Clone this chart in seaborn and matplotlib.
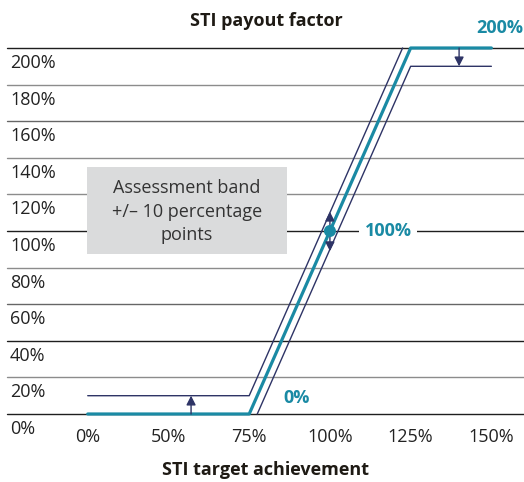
import numpy as np
import matplotlib
matplotlib.use("Agg")
import matplotlib.pyplot as plt
import seaborn as sns
from matplotlib.patches import Rectangle

# STI payout curve with +/- 10 pp assessment band

achievement_ticks = [0, 50, 75, 100, 125, 150]
achievement_labels = ["0%", "50%", "75%", "100%", "125%", "150%"]
payout_ticks = [0, 20, 40, 60, 80, 100, 120, 140, 160, 180, 200]
payout_labels = ["%d%%" % v for v in payout_ticks]

target_x = [0, 75, 125, 150]
target_y = [0, 0, 200, 200]
upper_x = [0, 75, 122.5]
upper_y = [10, 10, 200]
lower_x = [77.5, 125, 150]
lower_y = [0, 190, 190]

teal = "#1a8aa4"
navy = "#2e3466"
grid_colors = ["#1e1e1e", "#8c8c8c", "#1e1e1e", "#666666", "#8c8c8c", "#1e1e1e",
               "#8c8c8c", "#8c8c8c", "#666666", "#8c8c8c", "#1e1e1e"]

sns.set_style("white")
plt.rcParams["font.family"] = ["Open Sans", "DejaVu Sans"]
fs = 13

fig = plt.figure(figsize=(5.24, 4.82), dpi=100)
W, H = 524.0, 482.0
ax = fig.add_axes([7 / W, 1 - 414 / H, 517 / W, 366 / H])

# uneven x spacing: ticks equally spaced
xp = [-50, 0, 50, 75, 100, 125, 150, 175]
fp = [-1, 0, 1, 2, 3, 4, 5, 6]
fwd = lambda x: np.interp(x, xp, fp)
inv = lambda p: np.interp(p, fp, xp)
ax.set_xscale("function", functions=(fwd, inv))
ax.set_xlim(-50.9, 160.1)
ax.set_ylim(0, 200)

for v, c in zip(payout_ticks, grid_colors):
    ax.axhline(v, color=c, lw=1.0, zorder=1, clip_on=False)

sns.lineplot(x=upper_x, y=upper_y, ax=ax, color=navy, lw=1.0, sort=False, zorder=3)
sns.lineplot(x=lower_x, y=lower_y, ax=ax, color=navy, lw=1.0, sort=False, zorder=3)
sns.lineplot(x=target_x, y=target_y, ax=ax, color=teal, lw=2.3, sort=False, zorder=4)
for line in ax.lines:
    line.set_clip_on(False)
sns.scatterplot(x=[100], y=[100], ax=ax, color=teal, s=75, edgecolor="none", zorder=6)

arrow = dict(arrowstyle="-|>,head_length=0.55,head_width=0.28", color=navy, lw=1.0, shrinkA=0, shrinkB=0)
ax.annotate("", xy=(140, 190), xytext=(140, 200), arrowprops=arrow, zorder=5)
ax.annotate("", xy=(57, 10), xytext=(57, 0), arrowprops=arrow, zorder=5)
ax.annotate("", xy=(100, 110.5), xytext=(100, 100), arrowprops=arrow, zorder=5)
ax.annotate("", xy=(100, 89), xytext=(100, 100), arrowprops=arrow, zorder=5)

# y labels sit just below each grid line
for v, lab in zip(payout_ticks, payout_labels):
    ax.annotate(lab, xy=(0, v), xycoords=("axes fraction", "data"), xytext=(3, -6),
                textcoords="offset pixels", va="top", ha="left", fontsize=fs, color="#222222")
ax.set_yticks([])
ax.set_xticks(achievement_ticks)
ax.set_xticklabels(achievement_labels, fontsize=fs, color="#222222")
ax.tick_params(axis="x", length=0, pad=10)
ax.xaxis.set_minor_locator(matplotlib.ticker.NullLocator())
for s in ax.spines.values():
    s.set_visible(False)

# assessment band box
ax.add_patch(Rectangle((0.1547, 0.437), 0.387, 0.238, transform=ax.transAxes,
                       facecolor="#dadbdc", edgecolor="none", zorder=2))
ax.text(0.348, 0.553, "Assessment band\n+/\u2013 10 percentage\npoints", transform=ax.transAxes,
        ha="center", va="center", fontsize=fs, color="#333333", linespacing=1.4, zorder=3)

ax.text(100 + 0.43 * 25, 100, "100%", ha="left", va="center", fontsize=fs, fontweight="bold",
        color=teal, zorder=5, bbox=dict(facecolor="white", edgecolor="none", pad=4))
ax.text(85.5, 8.7, "0%", ha="left", va="center", fontsize=fs, fontweight="bold", color=teal, zorder=5)
fig.text(523 / W, 1 - 28 / H, "200%", ha="right", va="center", fontsize=fs, fontweight="bold", color=teal)

fig.text(266 / W, 1 - 20.5 / H, "STI payout factor", ha="center", va="center", fontsize=fs,
         fontweight="bold", color="#1e1a14")
fig.text(266 / W, 1 - 470 / H, "STI target achievement", ha="center", va="center", fontsize=fs,
         fontweight="bold", color="#1e1a14")

fig.savefig("out.png", dpi=100)
